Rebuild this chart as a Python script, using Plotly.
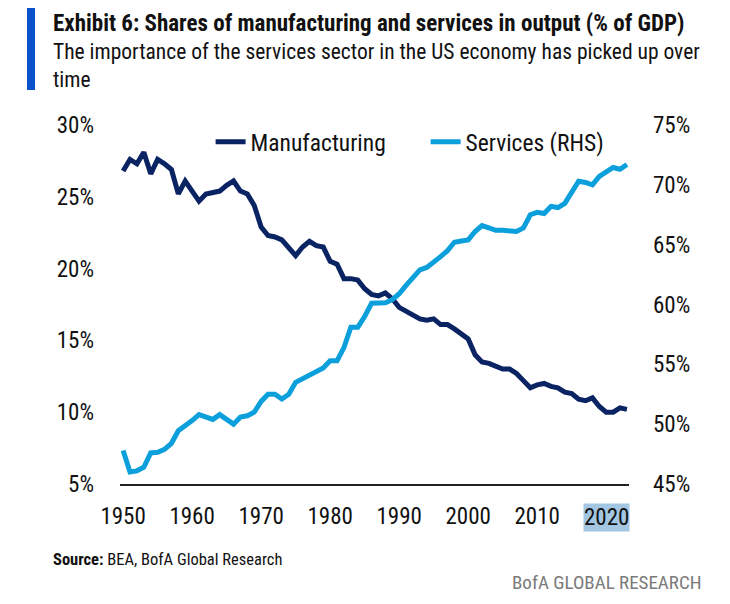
import plotly.graph_objects as go

years = list(range(1950, 2024))

manufacturing = [
    26.8, 27.6, 27.3, 28.1, 26.6, 27.6, 27.3, 26.9, 25.2, 26.1,
    25.4, 24.7, 25.2, 25.3, 25.4, 25.8, 26.1, 25.4, 25.2, 24.4,
    22.9, 22.3, 22.2, 22.0, 21.4, 20.9, 21.5, 21.9, 21.6, 21.5,
    20.5, 20.3, 19.3, 19.3, 19.2, 18.6, 18.2, 18.1, 18.3, 17.9,
    17.3, 17.0, 16.7, 16.5, 16.4, 16.5, 16.1, 16.1, 15.8, 15.4,
    15.1, 14.0, 13.5, 13.4, 13.2, 13.0, 13.0, 12.7, 12.2, 11.7,
    11.9, 12.0, 11.8, 11.7, 11.4, 11.3, 10.9, 10.8, 11.0, 10.4,
    10.0, 10.0, 10.3, 10.2,
]

services = [
    47.8, 46.0, 46.1, 46.4, 47.6, 47.65, 47.9, 48.4, 49.45, 49.85,
    50.3, 50.8, 50.6, 50.4, 50.8, 50.35, 50.0, 50.6, 50.7, 51.0,
    51.9, 52.5, 52.5, 52.1, 52.5, 53.5, 53.8, 54.1, 54.5, 54.7,
    55.3, 55.3, 56.4, 58.1, 58.1, 59.0, 60.1, 60.15, 60.15, 60.4,
    60.9, 61.6, 62.2, 62.9, 63.1, 63.5, 64.0, 64.5, 65.2, 65.3,
    65.4, 66.1, 66.6, 66.4, 66.2, 66.2, 66.1, 66.1, 66.4, 67.5,
    67.7, 67.6, 68.2, 68.1, 68.45, 69.4, 70.3, 70.2, 70.0, 70.7,
    71.1, 71.45, 71.3, 71.7,
]

x_ticks = [1950, 1960, 1970, 1980, 1990, 2000, 2010, 2020]
highlighted_tick = 2020
left_ticks = [5, 10, 15, 20, 25, 30]
right_ticks = [45, 50, 55, 60, 65, 70, 75]

NAVY = "#0a2363"
LIGHT = "#0b9fdb"
FONT = "Liberation Sans Narrow, Roboto Condensed, DejaVu Sans Condensed, sans-serif"
TXT = "#111111"

fig = go.Figure()
fig.add_trace(go.Scatter(
    x=years, y=manufacturing, name="Manufacturing", mode="lines",
    line=dict(color=NAVY, width=5), yaxis="y",
))
fig.add_trace(go.Scatter(
    x=years, y=services, name="Services (RHS)", mode="lines",
    line=dict(color=LIGHT, width=5), yaxis="y2",
))

plain_ticks = [t for t in x_ticks if t != highlighted_tick]

fig.update_layout(
    width=730, height=604,
    margin=dict(l=112, r=109, t=117, b=128),
    paper_bgcolor="white", plot_bgcolor="white",
    font=dict(family=FONT, color=TXT, size=23),
    showlegend=True,
    legend=dict(
        orientation="h", x=0.178, y=0.953, xanchor="left", yanchor="middle",
        font=dict(size=23.5, color=TXT), bgcolor="rgba(0,0,0,0)",
        itemwidth=30, tracegroupgap=0, entrywidth=170,
    ),
    xaxis=dict(
        range=[1949.55, 2023.3], tickvals=plain_ticks,
        ticktext=[str(t) for t in plain_ticks],
        showgrid=False, zeroline=False, showline=True, linecolor="#222222",
        linewidth=2, ticks="", ticklabelstandoff=10,
        tickfont=dict(size=23, color=TXT),
    ),
    yaxis=dict(
        range=[5, 30], tickvals=left_ticks,
        ticktext=[f"{t}%" for t in left_ticks],
        showgrid=False, zeroline=False, showline=False, ticks="",
        ticklabelstandoff=25, tickfont=dict(size=23, color=TXT),
    ),
    yaxis2=dict(
        range=[45, 75], tickvals=right_ticks,
        ticktext=[f"{t}%" for t in right_ticks],
        overlaying="y", side="right",
        showgrid=False, zeroline=False, showline=False, ticks="",
        ticklabelstandoff=23, tickfont=dict(size=23, color=TXT),
    ),
    shapes=[dict(
        type="rect", xref="paper", yref="paper",
        x0=-0.1827, x1=-0.167, y0=1.0975, y1=1.334,
        fillcolor="#0a52c9", line=dict(width=0),
    )],
    annotations=[
        dict(text="<b>Exhibit 6: Shares of manufacturing and services in output (% of GDP)</b>",
             xref="paper", yref="paper", x=-0.1356, y=1.283,
             xanchor="left", yanchor="middle", showarrow=False,
             font=dict(size=23, color=TXT)),
        dict(text="The importance of the services sector in the US economy has picked up over<br>time",
             xref="paper", yref="paper", x=-0.1356, y=1.245,
             xanchor="left", yanchor="top", showarrow=False, align="left",
             font=dict(size=21.5, color=TXT)),
        dict(text=str(highlighted_tick), xref="x", yref="paper",
             x=highlighted_tick, y=-0.052, xanchor="center", yanchor="top",
             showarrow=False, bgcolor="#a3c7e3", borderpad=0,
             font=dict(size=23, color=TXT)),
        dict(text="<b>Source:</b> BEA, BofA Global Research",
             xref="paper", yref="paper", x=-0.1356, y=-0.21,
             xanchor="left", yanchor="middle", showarrow=False,
             font=dict(size=16.5, color=TXT)),
        dict(text="BofA GLOBAL RESEARCH",
             xref="paper", yref="paper", x=1.145, y=-0.274,
             xanchor="right", yanchor="middle", showarrow=False,
             font=dict(size=19, color="#7a7a7a")),
    ],
)

fig.write_html("out.html")
